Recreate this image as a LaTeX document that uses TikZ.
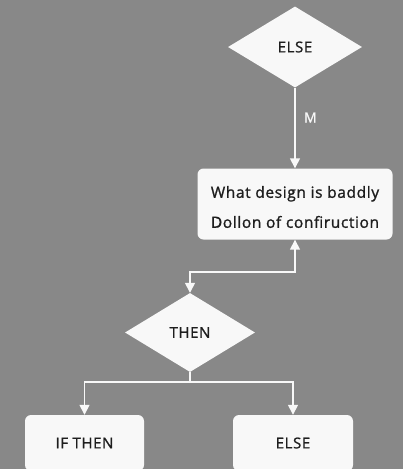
\documentclass[tikz,border=0pt]{standalone}
\usepackage{fontspec}
\setmainfont{Open Sans}[LetterSpace=4,FakeBold=1.2]
\usetikzlibrary{shapes.geometric,arrows.meta}
\definecolor{bg}{HTML}{888888}
\definecolor{shape}{HTML}{F8F8F8}
\definecolor{ink}{HTML}{1E1E1E}
\tikzset{
  dia/.style={diamond,fill=shape,inner sep=0pt,text=ink,font=\fontsize{15}{17}\selectfont},
  box/.style={rectangle,rounded corners=6pt,fill=shape,inner sep=0pt,text=ink,align=center},
  conn/.style={draw=shape,line width=1.5pt,-{Triangle[length=10pt,width=10pt]}},
  lab/.style={text=shape,font=\fontsize{14}{16}\selectfont}
}
\begin{document}
\begin{tikzpicture}[x=1pt,y=-1pt]
\clip (0,0) rectangle (403,469);
\fill[bg] (0,0) rectangle (403,469);
\node[dia,minimum width=134pt,minimum height=81pt] (else1) at (295,47) {ELSE};
\node[box,minimum width=195pt,minimum height=71pt] (q) at (295,204) {};
\node[text=ink,align=center,inner sep=0pt,font=\fontsize{15.5}{30}\selectfont] (qt) at (295,207) {What design is baddly\\Dollon of confiruction};
\node[dia,minimum width=130pt,minimum height=79pt] (then) at (190,332.5) {THEN};
\node[box,minimum width=119pt,minimum height=56pt,font=\fontsize{15}{17}\selectfont] (ifthen) at (84.5,443) {IF THEN};
\node[box,minimum width=120pt,minimum height=56pt,font=\fontsize{15}{17}\selectfont] (else2) at (293,443) {ELSE};
\coordinate (j1) at (295,272);
\coordinate (j2) at (190,382);
\draw[conn] (else1.south) -- node[lab,right=5pt,pos=0.37] {M} (q.north);
\draw[conn,{Triangle[length=10pt,width=10pt]}-{Triangle[length=10pt,width=10pt]}] (q.south) -- (j1) -| (then.north);
\draw[draw=shape,line width=1.5pt] (then.south) -- (j2);
\draw[conn] (j2) -| (ifthen.north);
\draw[conn] (j2) -| (else2.north);
\end{tikzpicture}
\end{document}
